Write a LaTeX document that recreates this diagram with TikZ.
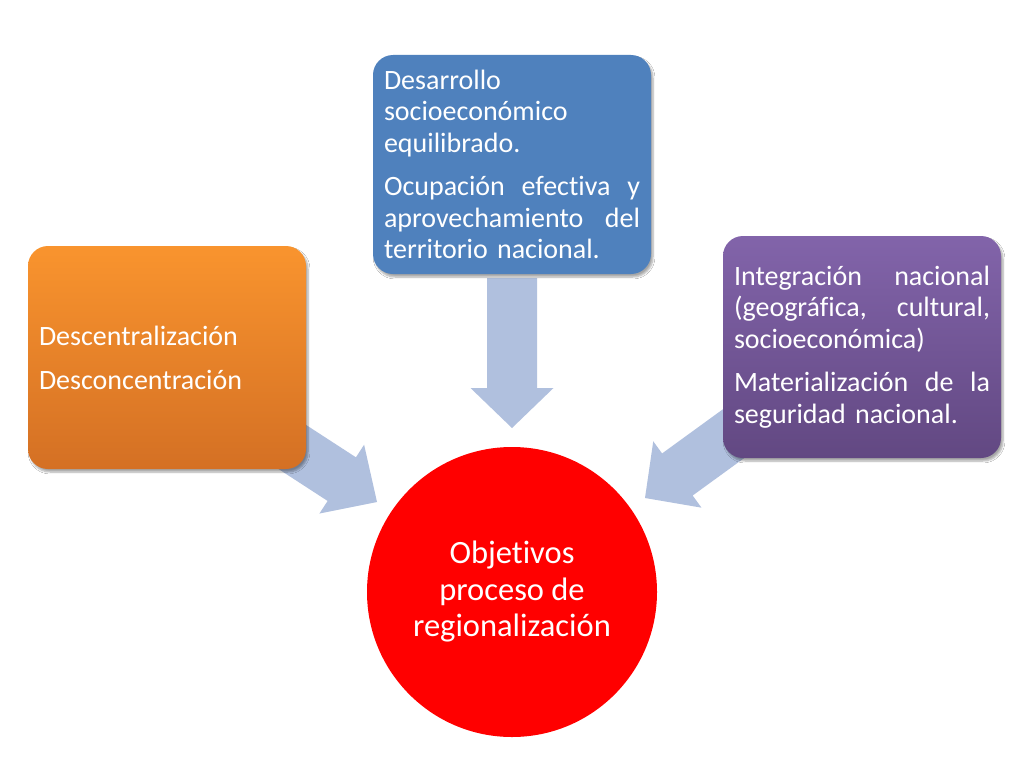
\documentclass[tikz,border=0pt]{standalone}
\usepackage{fontspec}
\setmainfont[Ligatures={NoCommon}]{Carlito}
\usetikzlibrary{shadows.blur}
\definecolor{arrowblue}{RGB}{176,192,222}
\definecolor{orangetop}{RGB}{249,148,46}
\definecolor{orangebot}{RGB}{212,112,36}
\definecolor{boxblue}{RGB}{79,129,189}
\definecolor{purpletop}{RGB}{130,100,170}
\definecolor{purplebot}{RGB}{98,72,130}
\definecolor{circred}{RGB}{255,0,0}
\tikzset{
  blockarrow/.style={fill=arrowblue, draw=none},
  infobox/.style={rectangle, rounded corners=20pt, draw=none, minimum width=278pt,
    text width=256pt, inner xsep=11pt, inner ysep=0pt, align=left, text=white,
    font=\fontsize{28}{31.5}\selectfont,
    blur shadow={shadow xshift=2pt, shadow yshift=-3pt, shadow blur steps=6, shadow opacity=35}},
  goal/.style={circle, fill=circred, draw=none, minimum size=290pt, inner sep=0pt,
    align=center, text=white, font=\fontsize{32.5}{36.5}\selectfont}
}
\newcommand{\jline}[1]{\leavevmode\hbox to 256pt{#1}}
\begin{document}
\begin{tikzpicture}[x=1pt,y=-1pt]
\useasboundingbox[fill=white] (0,0) rectangle (1024,768);
% block arrows
\begin{scope}[shift={(512,428)}, rotate=-90]
  \fill[blockarrow] (0,0) -- (-40,41.5) -- (-40,25) -- (-150,25) -- (-150,-25) -- (-40,-25) -- (-40,-41.5) -- cycle;
\end{scope}
\begin{scope}[shift={(377,502)}, rotate=-33]
  \fill[blockarrow] (0,0) -- (-42,41) -- (-42,26) -- (-172,26) -- (-172,-26) -- (-42,-26) -- (-42,-41) -- cycle;
\end{scope}
\begin{scope}[shift={(645,498)}, rotate=-144]
  \fill[blockarrow] (0,0) -- (-40,41) -- (-40,26) -- (-170,26) -- (-170,-26) -- (-40,-26) -- (-40,-41) -- cycle;
\end{scope}
% boxes
\node[infobox, minimum height=223pt, top color=orangetop, bottom color=orangebot] (left) at (167,357.5)
  {Descentralización\\[12.5pt]Desconcentración};
\node[infobox, minimum height=219pt, fill=boxblue] (top) at (512,164.5)
  {Desarrollo\\socioeconómico\\equilibrado.\\[12pt]\jline{Ocupación \hfill efectiva \hfill y}\\\jline{aprovechamiento \hfill del}\\territorio nacional.};
\node[infobox, minimum height=222pt, top color=purpletop, bottom color=purplebot] (right) at (862,347)
  {\jline{Integración \hfill nacional}\\\jline{(geográfica, \hfill cultural,}\\socioeconómica)\\[12pt]\jline{Materialización \hfill de \hfill la}\\seguridad nacional.};
% goal
\node[goal] (goal) at (512,592) {Objetivos\\proceso de\\regionalización};
\end{tikzpicture}
\end{document}
